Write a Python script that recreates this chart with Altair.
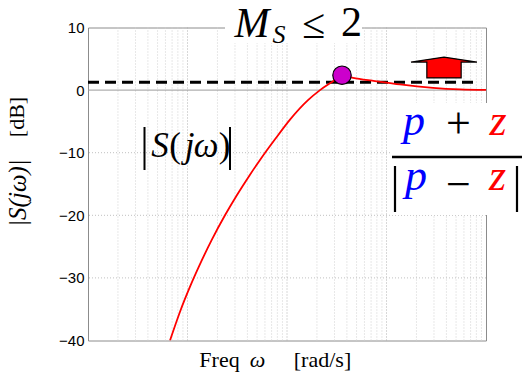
import altair as alt
import pandas as pd

# ---- data ----
freq = [0.0667, 0.0841, 0.1060, 0.1336, 0.1763, 0.2381, 0.3144, 0.4247, 0.5354,
        0.7575, 1.072, 1.626, 2.147, 2.834, 3.571, 4.606, 7.663, 13.67, 29.33,
        54.79, 100.0]
mag_db = [-40.0, -35.4, -31.4, -27.8, -23.85, -20.0, -16.76, -13.51, -11.16,
          -7.86, -4.71, -1.6, 0.0, 1.3, 2.38, 1.96, 1.45, 0.9, 0.37, 0.12, 0.02]
peak_freq = [3.571]
peak_db = [2.38]
bound_db = [1.25]
bound_from = [0.01]
bound_to = [75.0]
y_ticks = [-40, -30, -20, -10, 0, 10]
h_grid = [-30, -20, -10]
zero_line = [0]
major_freq = [0.1, 1.0, 10.0]
minor_freq = [0.02, 0.03, 0.04, 0.05, 0.06, 0.07, 0.08, 0.09,
              0.2, 0.3, 0.4, 0.5, 0.6, 0.7, 0.8, 0.9,
              2, 3, 4, 5, 6, 7, 8, 9,
              20, 30, 40, 50, 60, 70, 80, 90]

xs = alt.Scale(type="log", domain=[0.01, 100], nice=False)
ys = alt.Scale(domain=[-40, 10], nice=False, zero=False)
yaxis = alt.Axis(values=y_ticks, title=None, grid=False, domain=False, ticks=False,
                 labelFont="Liberation Sans", labelFontSize=15, labelColor="black",
                 labelPadding=4)

one = pd.DataFrame({"k": [0]})

minor = alt.Chart(pd.DataFrame({"f": minor_freq})).mark_rule(
    color="#d0d0d0", strokeDash=[1, 2], strokeWidth=1).encode(
    x=alt.X("f:Q", scale=xs, axis=None))
major = alt.Chart(pd.DataFrame({"f": major_freq})).mark_rule(
    color="#b0b0b0", strokeDash=[1, 2], strokeWidth=1).encode(
    x=alt.X("f:Q", scale=xs, axis=None))
hgrid = alt.Chart(pd.DataFrame({"d": h_grid})).mark_rule(
    color="#c0c0c0", strokeDash=[1, 2], strokeWidth=1).encode(
    y=alt.Y("d:Q", scale=ys, axis=yaxis))
zero = alt.Chart(pd.DataFrame({"d": zero_line})).mark_rule(
    color="#9a9a9a", strokeWidth=1).encode(
    y=alt.Y("d:Q", scale=ys, axis=yaxis))
bound = alt.Chart(pd.DataFrame({"a": bound_from, "b": bound_to, "d": bound_db})).mark_rule(
    color="black", strokeDash=[11, 6], strokeWidth=3).encode(
    x=alt.X("a:Q", scale=xs, axis=None), x2="b:Q",
    y=alt.Y("d:Q", scale=ys, axis=yaxis))
curve = alt.Chart(pd.DataFrame({"f": freq, "m": mag_db})).mark_line(
    color="#ff0000", strokeWidth=1.8, interpolate="monotone", clip=True).encode(
    x=alt.X("f:Q", scale=xs, axis=None),
    y=alt.Y("m:Q", scale=ys, axis=yaxis))
peak = alt.Chart(pd.DataFrame({"f": peak_freq, "m": peak_db})).mark_point(
    shape="circle", filled=True, color="#cc00cc", stroke="black", strokeWidth=1.2,
    opacity=1, size=340).encode(
    x=alt.X("f:Q", scale=xs, axis=None),
    y=alt.Y("m:Q", scale=ys, axis=yaxis))


def box(x1, x2, y1, y2):
    return alt.Chart(one).mark_rect(color="white").encode(
        x=alt.value(x1), x2=alt.value(x2), y=alt.value(y1), y2=alt.value(y2))


def vbar(x, y1, y2, w=2.0):
    return alt.Chart(one).mark_rule(color="black", strokeWidth=w).encode(
        x=alt.value(x), y=alt.value(y1), y2=alt.value(y2))


def txt(s, x, y, size, color="black", italic=False, angle=None,
        baseline="alphabetic", font="Liberation Serif"):
    kw = dict(text=s, fontSize=size, color=color, font=font, align="center",
              baseline=baseline)
    if italic:
        kw["fontStyle"] = "italic"
    if angle is not None:
        kw["angle"] = angle
    return alt.Chart(one).mark_text(**kw).encode(x=alt.value(x), y=alt.value(y))


arrow_path = ("M 0 -0.30 L 1 -0.15 L 0.52 -0.15 L 0.52 0.33 L -0.52 0.33 "
              "L -0.52 -0.15 L -1 -0.15 Z")
arrow = alt.Chart(one).mark_point(
    shape=arrow_path, size=4356, filled=True, color="#ff0000", stroke="black",
    strokeWidth=1.2, opacity=1).encode(x=alt.value(356), y=alt.value(39.5))

layers = [
    minor, major, hgrid, zero, bound, curve, peak,
    box(137, 274, -30, 15.5),
    box(302, 440, 75.5, 187.5),
    arrow,
    # M_S <= 2
    txt("M", 164, 9, 42, italic=True),
    txt("S", 191, 15, 26, italic=True),
    txt("≤", 225.5, 10.5, 42),
    txt("2", 263.5, 8.5, 42),
    # |S(jw)|
    vbar(56.5, 99.5, 142.5),
    txt("S", 72, 129.5, 35, italic=True),
    txt("(", 87, 129.5, 35),
    txt("j", 101.5, 129.5, 35, italic=True),
    txt("ω", 118, 129.5, 35, italic=True),
    txt(")", 136.5, 129.5, 35),
    vbar(142, 99.5, 142.5),
    # fraction
    txt("p", 326, 107.5, 44, color="#0000ff", italic=True),
    txt("+", 370.5, 110.5, 44),
    txt("z", 410, 107.5, 44, color="#ff0000", italic=True),
    alt.Chart(one).mark_rule(color="black", strokeWidth=2.5).encode(
        x=alt.value(304), x2=alt.value(434), y=alt.value(129.5)),
    vbar(307, 138.5, 184.5, 2.2),
    txt("p", 328, 162.5, 44, color="#0000ff", italic=True),
    txt("−", 370.5, 171, 44),
    txt("z", 409.5, 162.5, 44, color="#ff0000", italic=True),
    vbar(429, 138.5, 184.5, 2.2),
    # axis titles
    txt("[dB]", -71, 89.5, 22, angle=270, baseline="middle"),
    txt("|S(jω)|", -70.5, 165.5, 25, italic=True, angle=270, baseline="middle"),
    txt("Freq", 131.5, 339.5, 22),
    txt("ω", 169.5, 339.5, 22, italic=True),
    txt("[rad/s]", 234.5, 339.5, 22),
]

chart = alt.layer(*layers).properties(
    width=398, height=313,
    autosize=alt.AutoSizeParams(type="none"),
    padding={"left": 88, "top": 27.5, "right": 36, "bottom": 39.5},
    background="white",
).configure_view(stroke="#8c8c8c", strokeWidth=1)

chart.save("out.html", embed_options={"renderer": "svg", "actions": False})
